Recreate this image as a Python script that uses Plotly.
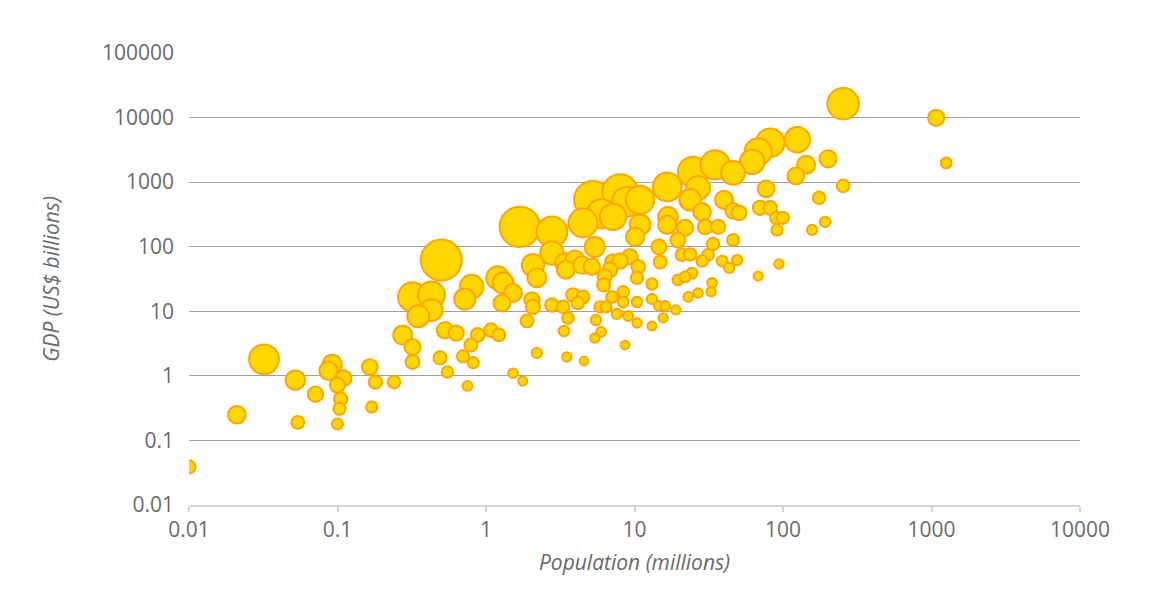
import numpy as np
import plotly.graph_objects as go

# population (millions) and GDP (US$ billions) per country
population = [
    0.01, 0.021, 0.032, 0.052, 0.071, 0.054, 0.092, 0.087, 0.11, 0.1,
    0.105, 0.103, 0.1, 0.165, 0.18, 0.24, 0.17, 0.275, 0.32, 0.32,
    0.32, 0.43, 0.43, 0.35, 0.5, 0.53, 0.63, 0.49, 0.55, 0.75,
    0.7, 0.82, 0.79, 0.88, 0.72, 0.8, 1.08, 1.22, 1.2, 1.3,
    1.28, 1.52, 1.52, 1.77, 1.69, 2.78, 2.78, 5.4, 2.07, 2.2,
    3.4, 3.45, 4.43, 5.17, 3.97, 4.5, 5.25, 6.0, 7.16, 8.0,
    8.9, 10.9, 10.9, 10.1, 9.3, 10.6, 10.4, 7.16, 6.84, 6.3,
    6.2, 7.06, 5.86, 6.44, 8.4, 8.4, 7.6, 9.06, 10.4, 10.4,
    5.5, 5.96, 5.42, 8.63, 4.57, 3.5, 2.2, 1.89, 2.04, 2.07,
    2.78, 3.3, 3.56, 3.35, 3.85, 4.5, 4.16, 13.1, 13.1, 14.6,
    16.1, 15.6, 13.1, 19.0, 14.6, 14.9, 16.8, 16.6, 21.9, 19.6,
    20.9, 23.7, 28.5, 31.3, 33.8, 29.9, 36.6, 28.5, 23.7, 26.8,
    16.6, 24.8, 34.9, 46.1, 40.1, 46.1, 50.6, 46.1, 38.9, 49.1,
    43.4, 21.9, 19.6, 24.4, 33.3, 32.8, 26.8, 23.0, 62, 68,
    82, 77, 70, 82, 90, 100, 91, 94, 68, 125,
    201, 143, 122, 254, 175, 192, 157, 254, 1076, 1256,
    8.0,
]
gdp = [
    0.039, 0.25, 1.8, 0.86, 0.52, 0.19, 1.5, 1.2, 0.92, 0.72,
    0.44, 0.31, 0.18, 1.37, 0.8, 0.8, 0.33, 4.3, 2.8, 1.64,
    16.7, 18, 10.5, 8.4, 62, 5.1, 4.6, 1.9, 1.15, 0.7,
    2.0, 1.6, 3.0, 4.3, 15.5, 24, 5.1, 4.3, 33, 27.5,
    13.4, 19.2, 1.1, 0.83, 203, 170, 80, 99, 52, 33,
    56, 44, 52, 49, 62, 234, 532, 323, 290, 700,
    495, 532, 218, 142, 70, 49, 33, 58, 44, 35,
    25.6, 16.7, 11.7, 11.7, 20, 13.9, 9.1, 8.45, 13.9, 6.6,
    7.3, 4.8, 3.86, 3.0, 1.7, 1.96, 2.26, 7.1, 15, 11.7,
    12.5, 11.7, 7.9, 4.95, 17.9, 16.7, 13.4, 26.5, 15.5, 12.1,
    12.1, 7.9, 5.9, 10.5, 99, 58, 290, 218, 196, 127,
    75, 76, 60, 75, 110, 203, 203, 346, 532, 816,
    845, 1445, 1855, 1390, 532, 359, 334, 127, 60, 62,
    47, 34, 30.6, 39, 27.5, 20, 19.2, 16.7, 2065, 2950,
    4065, 787, 400, 400, 280, 280, 182, 54, 35, 4530,
    2300, 1855, 1250, 877, 571, 242, 182, 16370, 9930, 1990,
    60,
]

tick_vals_x = [0.01, 0.1, 1, 10, 100, 1000, 10000]
tick_text_x = ["0.01", "0.1", "1", "10", "100", "1000", "10000"]
tick_vals_y = [0.01, 0.1, 1, 10, 100, 1000, 10000, 100000]
tick_text_y = ["0.01", "0.1", "1", "10", "100", "1000", "10000", "100000"]

pop = np.array(population)
gd = np.array(gdp)
per_capita = gd / pop  # thousand US$ per person, drives bubble size

# bubble diameter scale (area-like): min 9px, max 43px
diam = 9 + 34 * np.sqrt(per_capita / per_capita.max())
order = np.argsort(-diam)

fig = go.Figure(go.Scatter(
    x=pop[order], y=gd[order],
    mode="markers",
    marker=dict(size=diam[order] - 2, color="#FFD700",
                line=dict(color="#FFA500", width=2), opacity=1),
    hoverinfo="x+y",
))

font = "Segoe UI, Open Sans, sans-serif"
fig.update_layout(
    width=1170, height=600,
    margin=dict(l=181, r=98, t=45, b=103),
    plot_bgcolor="white", paper_bgcolor="white",
    showlegend=False,
    font=dict(family=font, color="#6a6a6a", size=21),
    xaxis=dict(
        type="log", range=[-2, 4],
        tickvals=tick_vals_x, ticktext=tick_text_x,
        showgrid=False, zeroline=False,
        showline=True, linecolor="#d4d4d4", linewidth=2,
        ticks="outside", ticklen=5, tickcolor="#d4d4d4", tickwidth=2,
        ticklabelstandoff=0,
        title=dict(text="Population (millions)", standoff=13,
                   font=dict(size=21, style="italic", color="#6a6a6a")),
    ),
    yaxis=dict(
        type="log", range=[-2, 5],
        tickvals=tick_vals_y, ticktext=tick_text_y,
        showgrid=True, gridcolor="#a0a0a0", gridwidth=1,
        zeroline=False, showline=False, ticks="",
        ticklabelstandoff=14,
        title=dict(text="GDP (US$ billions)", standoff=36,
                   font=dict(size=21, style="italic", color="#6a6a6a")),
    ),
)

fig.write_html("out.html")
